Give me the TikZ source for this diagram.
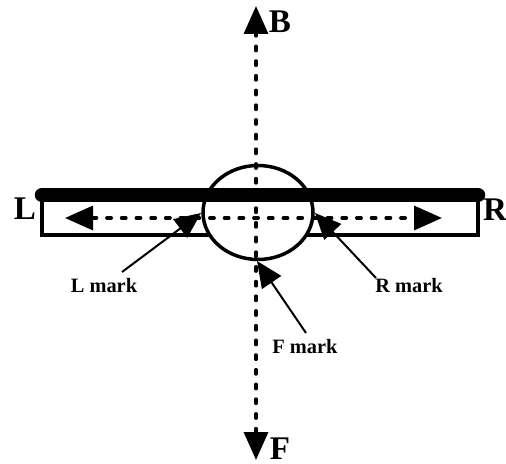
\documentclass[tikz,border=0pt]{standalone}
\usepackage{fontspec}
\setmainfont{Liberation Serif}
\usepackage{tikz}
\usetikzlibrary{arrows.meta,shapes.geometric}
\tikzset{
  >={Triangle[length=28*0.025cm,width=24*0.025cm]},
  hub/.style={ellipse, draw=black, fill=white, line width=3.5*0.025cm, inner sep=0pt,
    minimum width=110*0.025cm, minimum height=94*0.025cm},
  axisarr/.style={<->, draw=black, line width=3.4*0.025cm, line cap=round, dash pattern=on 4.4*0.025cm off 10.3*0.025cm},
  markarr/.style={{Triangle[length=26*0.025cm,width=23*0.025cm]}-, draw=black, line width=2*0.025cm},
  boxline/.style={draw=black, line width=3.5*0.025cm, line join=miter},
  barline/.style={draw=black, line width=14.5*0.025cm, line cap=round},
  biglbl/.style={font=\fontsize{23.5}{25}\bfseries\selectfont, inner sep=0pt},
  marklbl/.style={font=\fontsize{14.5}{16}\bfseries\selectfont, inner sep=0pt},
}
\begin{document}
\begin{tikzpicture}[x=0.025cm,y=-0.025cm]
  \useasboundingbox (0,0) rectangle (506,464);
  % tray and lens
  \coordinate (trayL) at (42,195);
  \coordinate (trayR) at (478,195);
  \draw[boxline] (trayL) -- (42,235) -- (478,235) -- (trayR);
  \node[hub] (lens) at (258,212.5) {};
  \draw[barline] (trayL) -- (trayR);
  % axes
  \coordinate (bTip) at (256,6);
  \coordinate (fTip) at (256,460);
  \coordinate (lTip) at (65,218);
  \coordinate (rTip) at (442,218);
  \draw[axisarr] (fTip) -- (bTip);
  \draw[axisarr] (lTip) -- (rTip);
  % labels
  \node[biglbl] (bLbl) at (280,22) {B};
  \node[biglbl] (fLbl) at (280,449) {F};
  \node[biglbl] (lLbl) at (25,209) {L};
  \node[biglbl] (rLbl) at (495,210) {R};
  \node[marklbl] (lMark) at (104,286) {L mark};
  \node[marklbl] (rMark) at (409,286) {R mark};
  \node[marklbl] (fMark) at (305,347) {F mark};
  % marks
  \coordinate (lHit) at (201,213);
  \coordinate (rHit) at (315,213);
  \coordinate (fHit) at (257,261);
  \coordinate (lTail) at (122,272);
  \coordinate (rTail) at (376,278);
  \coordinate (fTail) at (306,333);
  \draw[markarr] (lHit) -- (lTail);
  \draw[markarr] (rHit) -- (rTail);
  \draw[markarr] (fHit) -- (fTail);
\end{tikzpicture}
\end{document}
